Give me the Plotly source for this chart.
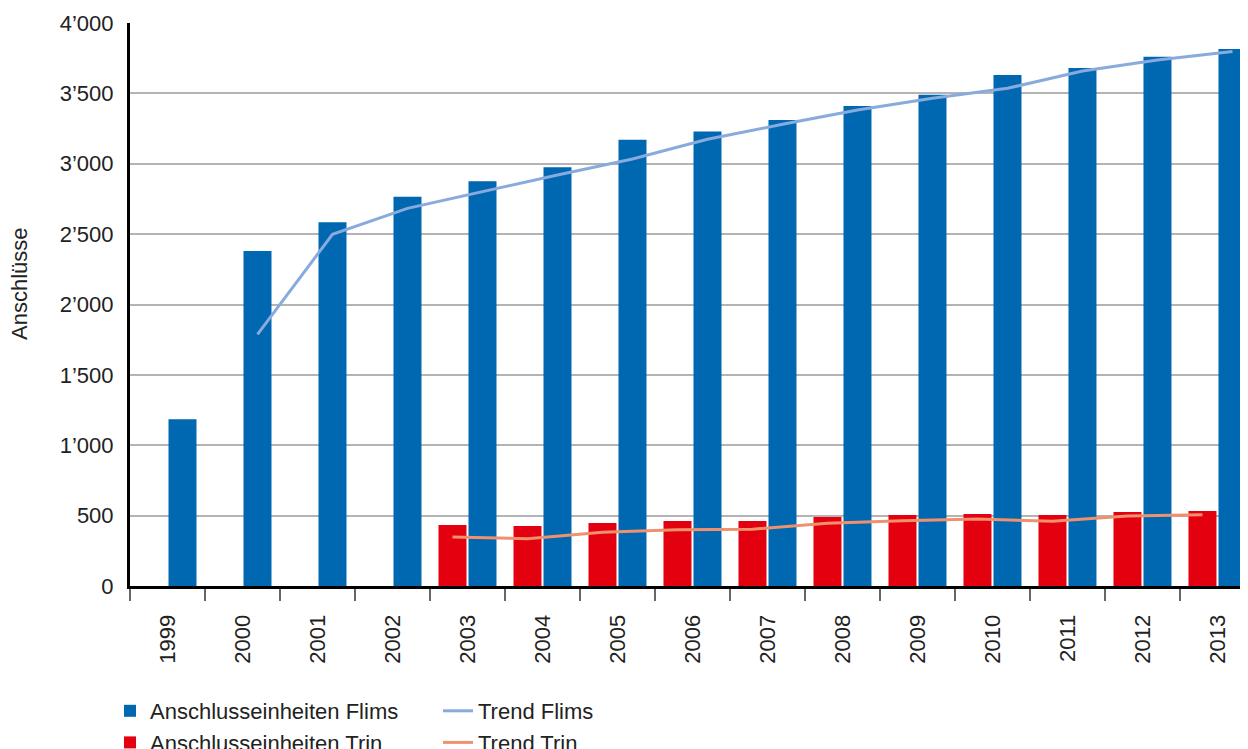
import plotly.graph_objects as go

years = ["1999", "2000", "2001", "2002", "2003", "2004", "2005", "2006",
         "2007", "2008", "2009", "2010", "2011", "2012", "2013"]
flims = [1185, 2380, 2585, 2765, 2875, 2975, 3170, 3230, 3310, 3410, 3490, 3630, 3680, 3760, 3815]
trin = [None, None, None, None, 433, 426, 448, 462, 462, 490, 504, 512, 504, 526, 533]
trend_flims = [None, 1788, 2499, 2683, 2804, 2920, 3034, 3174, 3280, 3382, 3465, 3536, 3659, 3737, 3797]
trend_trin = [None, None, None, None, 348, 336, 381, 400, 404, 445, 464, 476, 460, 497, 507]
y_ticks = [0, 500, 1000, 1500, 2000, 2500, 3000, 3500, 4000]
y_labels = ["0", "500", "1’000", "1’500", "2’000", "2’500", "3’000", "3’500", "4’000"]

BLUE = "#0067B1"
RED = "#E3000F"
TF = "#88AADD"
TT = "#F0916E"
FONT = "Liberation Sans"
TXT = "#222222"
FS = 22

# page body has an 8px default margin; size the figure to fill the window
W, H = 1240, 741

bargap = 0.2
off = (1 - bargap) / 4
idx = list(range(len(years)))

fig = go.Figure()
fig.add_trace(go.Bar(x=years, y=trin, name="Anschlusseinheiten Trin",
                     marker=dict(color=RED, line=dict(width=0)), legendrank=2,
                     legend="legend"))
fig.add_trace(go.Bar(x=years, y=flims, name="Anschlusseinheiten Flims",
                     marker=dict(color=BLUE, line=dict(width=0)), legendrank=1,
                     legend="legend"))
fig.add_trace(go.Scatter(x=[i + off for i in idx], y=trend_flims, name="Trend Flims",
                         mode="lines", line=dict(color=TF, width=3), xaxis="x2",
                         legendrank=1, legend="legend2"))
fig.add_trace(go.Scatter(x=[i - off for i in idx], y=trend_trin, name="Trend Trin",
                         mode="lines", line=dict(color=TT, width=3), xaxis="x2",
                         legendrank=2, legend="legend2"))

xr = [-0.5, 14.407]
leg_common = dict(orientation="v", xref="container", yref="container",
                  yanchor="top", xanchor="left", font=dict(size=FS, family=FONT, color=TXT),
                  traceorder="normal", tracegroupgap=0, itemwidth=30,
                  bgcolor="rgba(0,0,0,0)")
fig.update_layout(
    width=W, height=H,
    margin=dict(l=122, r=0, t=15, b=163, autoexpand=False),
    paper_bgcolor="white", plot_bgcolor="white",
    barmode="group", bargap=bargap, bargroupgap=0.067,
    font=dict(family=FONT, size=FS, color=TXT),
    xaxis=dict(type="category", range=xr, tickson="boundaries", ticks="outside",
               ticklen=12, tickwidth=2, tickcolor="#666666", tickangle=-90,
               showline=True, linecolor="black", linewidth=3,
               showgrid=False, tickfont=dict(size=FS), ticklabelstandoff=17,
               automargin=False),
    xaxis2=dict(overlaying="x", range=xr, visible=False, showgrid=False),
    yaxis=dict(range=[0, 4000], tickvals=y_ticks, ticktext=y_labels,
               showgrid=True, gridcolor="#B4B4B4", gridwidth=2,
               showline=True, linecolor="black", linewidth=3,
               zeroline=False, ticks="", ticklabelstandoff=9,
               tickfont=dict(size=FS), automargin=False),
    legend=dict(x=102 / W, y=1 - 682 / H, **leg_common),
    legend2=dict(x=430 / W, y=1 - 682 / H, **leg_common),
    showlegend=True,
)
fig.add_annotation(text="Anschlüsse", xref="paper", yref="paper",
                   x=(11 - 122) / 1118, y=(586 - 284) / 563,
                   xanchor="center", yanchor="middle",
                   textangle=-90, showarrow=False, font=dict(size=FS, color=TXT))

fig.write_html("out.html")
